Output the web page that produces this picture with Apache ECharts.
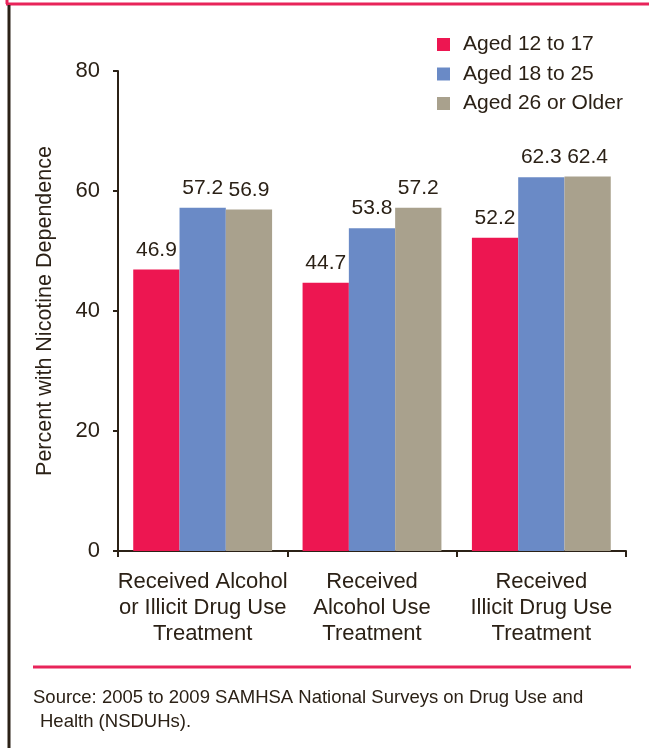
<!DOCTYPE html>
<html>
<head>
<meta charset="utf-8">
<script src="https://cdn.jsdelivr.net/npm/echarts@6/dist/echarts.min.js"></script>
<style>
  html, body { margin: 0; padding: 0; background: #fff; }
  #chart { width: 649px; height: 748px; }
</style>
</head>
<body>
<div id="chart"></div>
<script>
// Treatment categories (x axis)
var categories = [
  'Received Alcohol\nor Illicit Drug Use\nTreatment',
  'Received\nAlcohol Use\nTreatment',
  'Received\nIllicit Drug Use\nTreatment'
];
// Age groups (legend)
var seriesNames = ['Aged 12 to 17', 'Aged 18 to 25', 'Aged 26 or Older'];
// Percent with nicotine dependence per age group
var aged12to17 = [46.9, 44.7, 52.2];
var aged18to25 = [57.2, 53.8, 62.3];
var aged26plus = [56.9, 57.2, 62.4];
var seriesColors = ['#ED1651', '#6A8AC6', '#A9A18D'];
// Y axis range
var yMin = 0, yMax = 80, yStep = 20;

var ink = '#2B2116';
var font = '"Liberation Sans", Arial, Helvetica, sans-serif';

var chart = echarts.init(document.getElementById('chart'), null, { renderer: 'canvas' });

function bar(name, data, color) {
  return {
    name: name,
    type: 'bar',
    data: data,
    barGap: '0%',
    barCategoryGap: '18%',
    itemStyle: { color: color },
    label: {
      show: true,
      position: 'top',
      distance: 9,
      color: ink,
      fontFamily: font,
      fontSize: 21,
      formatter: function (p) { return p.value.toFixed(1); }
    }
  };
}

chart.setOption({
  animation: false,
  backgroundColor: '#ffffff',
  textStyle: { fontFamily: font, color: ink },
  grid: { left: 118, right: 23, top: 71, bottom: 197, containLabel: false },
  legend: {
    data: seriesNames,
    orient: 'vertical',
    left: 437,
    top: 34,
    padding: 0,
    itemWidth: 13,
    itemHeight: 13,
    itemGap: 8.5,
    icon: 'rect',
    textStyle: { fontFamily: font, fontSize: 21, color: ink, lineHeight: 20, padding: [0, 0, 0, 8] }
  },
  xAxis: {
    type: 'category',
    data: categories,
    axisLine: { lineStyle: { color: ink, width: 2 } },
    axisTick: { show: true, length: 6, lineStyle: { color: ink, width: 2 } },
    axisLabel: {
      color: ink, fontFamily: font, fontSize: 22, lineHeight: 26, margin: 18,
      interval: 0, align: 'center'
    }
  },
  yAxis: {
    type: 'value',
    min: yMin, max: yMax, interval: yStep,
    name: 'Percent with Nicotine Dependence',
    nameLocation: 'middle',
    nameGap: 62,
    nameTextStyle: { color: ink, fontFamily: font, fontSize: 21.5 },
    axisLine: { show: true, lineStyle: { color: ink, width: 2 } },
    axisTick: { show: true, length: 5, lineStyle: { color: ink, width: 2 } },
    axisLabel: { color: ink, fontFamily: font, fontSize: 22, margin: 18 },
    splitLine: { show: false }
  },
  series: [
    bar(seriesNames[0], aged12to17, seriesColors[0]),
    bar(seriesNames[1], aged18to25, seriesColors[1]),
    bar(seriesNames[2], aged26plus, seriesColors[2])
  ],
  graphic: [
    // page frame: pink top rule and dark left rule
    { type: 'line', shape: { x1: 6, y1: 4, x2: 649, y2: 4 }, style: { stroke: '#E8245A', lineWidth: 3 } },
    { type: 'line', shape: { x1: 7, y1: 0, x2: 7, y2: 4 }, style: { stroke: '#E8245A', lineWidth: 3 } },
    { type: 'line', shape: { x1: 9, y1: 5, x2: 9, y2: 748 }, style: { stroke: ink, lineWidth: 3 } },
    // footer rule and source note
    { type: 'line', shape: { x1: 33, y1: 667, x2: 631, y2: 667 }, style: { stroke: '#E8245A', lineWidth: 3 } },
    {
      type: 'text', left: 33, top: 688,
      style: { text: 'Source: 2005 to 2009 SAMHSA National Surveys on Drug Use and', fill: ink, font: '18.5px ' + font }
    },
    {
      type: 'text', left: 40, top: 712,
      style: { text: 'Health (NSDUHs).', fill: ink, font: '18.5px ' + font }
    }
  ]
});
</script>
</body>
</html>
